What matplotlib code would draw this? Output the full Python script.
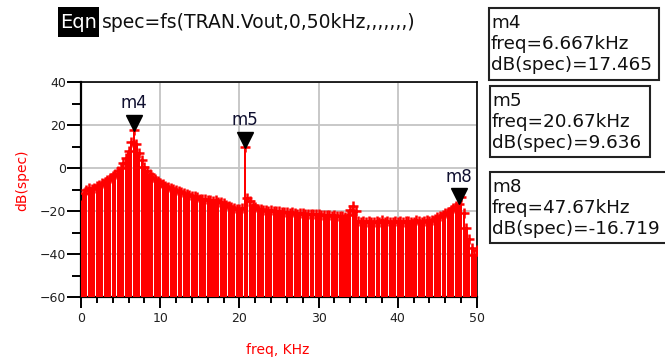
"""Spectrum of TRAN.Vout (ADS style): dB(spec) vs freq with m4/m5/m8 markers."""

import matplotlib

matplotlib.use("Agg")
import matplotlib.pyplot as plt  # noqa: E402
import numpy as np  # noqa: E402
from matplotlib.patches import Rectangle  # noqa: E402
from matplotlib.transforms import offset_copy  # noqa: E402

W, H = 665, 363

# spectrum bins, 1/3 kHz resolution from 0 to 50 kHz
freq_step_khz = 1.0 / 3.0
spec_db = [
    -17.0, -11.5, -10.0, -9.5, -9.8, -9.2, -8.5, -7.8, -7.0, -6.3,
    -5.5, -4.5, -3.8, -2.8, -1.5, 0.2, 2.3, 4.6, 8.0, 12.0,
    17.465, 11.0, 7.0, 3.5, 0.5, -1.5, -3.0, -4.0, -5.0, -6.0,
    -6.8, -7.5, -8.2, -8.8, -9.4, -9.9, -10.4, -10.8, -11.2, -11.7,
    -12.0, -12.4, -12.8, -13.1, -13.5, -14.2, -14.5, -14.3, -14.8, -15.1,
    -15.3, -15.0, -15.6, -16.0, -16.4, -17.0, -17.5, -18.0, -18.5, -19.0,
    -19.3, -18.5, 9.636, -14.0, -15.5, -17.0, -18.2, -19.0, -19.3, -19.5,
    -19.6, -19.8, -19.5, -20.0, -20.2, -20.0, -20.5, -20.3, -20.6, -20.8,
    -20.5, -21.0, -21.2, -20.8, -21.0, -21.2, -21.5, -21.2, -21.4, -21.6,
    -21.5, -21.8, -22.0, -21.7, -22.0, -22.2, -22.0, -22.3, -22.5, -22.3,
    -22.6, -22.0, -19.5, -17.5, -20.0, -24.5, -25.0, -24.8, -25.2, -24.6,
    -25.0, -25.3, -24.7, -25.0, -24.4, -25.1, -24.8, -25.2, -24.9, -24.5,
    -25.0, -24.7, -25.2, -24.8, -24.6, -25.0, -24.9, -24.3, -24.8, -25.0,
    -24.6, -24.2, -24.5, -24.0, -23.5, -23.0, -22.5, -21.8, -21.0, -20.3,
    -19.5, -18.5, -17.8, -16.719, -13.5, -21.0, -28.0, -33.0, -37.0, -40.5,
    -38.0,
]

marker_names = ["m4", "m5", "m8"]
marker_freq_khz = [6.667, 20.67, 47.67]
marker_db = [17.465, 9.636, -16.719]

x_major = [0, 10, 20, 30, 40, 50]
x_minor = [2, 4, 6, 8, 12, 14, 16, 18, 22, 24, 26, 28, 32, 34, 36, 38, 42, 44, 46, 48]
y_major = [-60, -40, -20, 0, 20, 40]
y_minor = [-50, -30, -10, 10, 30]

header_eq = "spec=fs(TRAN.Vout,0,50kHz,,,,,,,)"


def px(x, y):
    """pixel (from top-left) -> figure fraction"""
    return x / W, 1 - y / H


fig = plt.figure(figsize=(W / 100, H / 100), dpi=100)
ax = fig.add_axes([81 / W, 1 - 297 / H, (477 - 81) / W, (297 - 82) / H])

freq = np.arange(len(spec_db)) * freq_step_khz
db = np.array(spec_db)
floor = -60.0

# stems as pixel-snapped bars a bit narrower than the bin, so the thin
# white gaps show up every few bins like in the ADS render
ax.bar(freq, db - floor, bottom=floor, width=0.297, color="#ff0000",
       linewidth=0, snap=True, zorder=3)
ax.plot(freq, db, linestyle="none", marker="+", markersize=6.5,
        markeredgewidth=1.8, color="#ff0000", zorder=3)

# markers: triangle with tip on the data point, name above
tri_tf = offset_copy(ax.transData, fig, x=0, y=7.5, units="dots")
for name, f, v in zip(marker_names, marker_freq_khz, marker_db):
    ax.plot([f], [v], marker="v", markersize=11, color="black",
            linestyle="none", zorder=5, transform=tri_tf)
    ax.annotate(name, (f, v), xytext=(0, 13), textcoords="offset points",
                ha="center", va="bottom", fontsize=12, color="#101030", zorder=6)

ax.set_xlim(0, 50)
ax.set_ylim(-60, 40)
ax.set_xticks(x_major)
ax.set_xticks(x_minor, minor=True)
ax.set_yticks(y_major)
ax.set_yticks(y_minor, minor=True)
ax.grid(True, which="major", color="#c4c4c4", linewidth=1.3, zorder=0)
ax.set_axisbelow(True)

ax.tick_params(axis="y", which="major", length=10, width=1.4, pad=0.5,
               labelsize=9, labelcolor="#202020")
ax.tick_params(axis="y", which="minor", length=6.5, width=1.4)
ax.tick_params(axis="x", which="major", length=8, width=1.4, pad=3,
               labelsize=9, labelcolor="#202020")
ax.tick_params(axis="x", which="minor", length=4.3, width=1.4)
for side in ["left", "bottom"]:
    ax.spines[side].set_linewidth(1.6)
for side in ["top", "right"]:
    ax.spines[side].set_linewidth(1.2)

fig.text(*px(22, 180), "dB(spec)", rotation=90, color="red", fontsize=10,
         ha="center", va="center")
fig.text(*px(278, 350), "freq, KHz", color="red", fontsize=10,
         ha="center", va="center")

# equation header
x0, y0 = px(58, 37)
fig.patches.append(Rectangle((x0, y0), 41 / W, 30 / H, transform=fig.transFigure,
                             facecolor="black", edgecolor="none"))
fig.text(*px(78.5, 22), "Eqn", color="white", fontsize=14, ha="center", va="center")
fig.text(*px(102, 22), header_eq, color="#101010", fontsize=13.5,
         ha="left", va="center")

# marker readout boxes
boxes = [(489, 8, 659, 80), (490, 86, 650, 157), (490, 172, 672, 243)]
for (l, t, r, b), name, f, v in zip(boxes, marker_names, marker_freq_khz, marker_db):
    bx, by = px(l, b)
    fig.patches.append(Rectangle((bx, by), (r - l) / W, (b - t) / H,
                                 transform=fig.transFigure, facecolor="white",
                                 edgecolor="#222222", linewidth=1.5))
    lines = [name, f"freq={f:g}kHz", f"dB(spec)={v:.3f}"]
    for i, s in enumerate(lines):
        fig.text(*px(l + 2, t + 20 + 21 * i), s, fontsize=13.2, color="#101010",
                 ha="left", va="baseline")

fig.savefig("out.png", dpi=100)
